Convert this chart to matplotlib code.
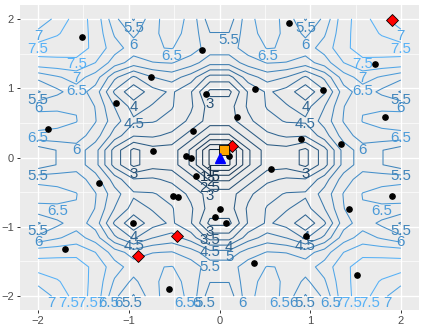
import numpy as np
import matplotlib
matplotlib.use("Agg")
import matplotlib.pyplot as plt
from matplotlib.colors import to_rgb

plt.rcParams['font.family'] = ['Liberation Sans', 'DejaVu Sans']

# surface values on a 20 x 20 grid over [-2, 2]; only the x>0, y>0 quarter is typed
# (rows = y, cols = x, from 0.105 out to 2), the picture is symmetric
grid_coords = np.linspace(-2, 2, 20)
z_quarter = np.array([
    [0.93, 2.42, 3.27, 3.29, 2.86, 3.80, 5.19, 5.77, 5.52, 5.21],
    [2.42, 3.27, 3.88, 4.08, 4.04, 4.77, 5.74, 6.26, 6.33, 6.35],
    [3.27, 3.88, 4.34, 4.54, 4.58, 5.21, 6.03, 6.52, 6.67, 6.78],
    [3.29, 4.08, 4.54, 4.54, 4.30, 4.99, 5.98, 6.47, 6.42, 6.34],
    [2.86, 4.04, 4.58, 4.30, 3.60, 4.42, 5.77, 6.27, 5.88, 5.45],
    [3.80, 4.77, 5.21, 4.99, 4.42, 5.12, 6.26, 6.71, 6.44, 6.13],
    [5.19, 5.74, 6.03, 5.98, 5.77, 6.26, 7.00, 7.38, 7.37, 7.35],
    [5.77, 6.26, 6.52, 6.47, 6.27, 6.71, 7.38, 7.72, 7.72, 7.71],
    [5.52, 6.33, 6.67, 6.42, 5.88, 6.44, 7.37, 7.72, 7.46, 7.17],
    [5.21, 6.35, 6.78, 6.34, 5.45, 6.13, 7.35, 7.71, 7.17, 6.59],
])
levels = [1, 1.5, 2, 2.5, 3, 3.5, 4, 4.5, 5, 5.5, 6, 6.5, 7, 7.5]

# sample points
dots_x = [-1.52, -0.76, -1.14, -1.89, -0.73, -0.37, -0.31, -0.19, -0.15, -0.29,
          0.77, 1.72, 0.39, 1.14, 0.19, 1.83, 0.90, 1.34, 0.10,
          -1.33, -0.51, -0.46, -0.95, -1.70, -0.56, -0.26,
          0.57, 1.90, 1.43, 0.01, -0.05, 0.07, 0.95, 0.38, 1.52]
dots_y = [1.74, 1.16, 0.78, 0.41, 0.10, 0.02, -0.01, 1.55, 0.91, 0.38,
          1.94, 1.35, 0.99, 0.98, 0.59, 0.59, 0.26, 0.20, 0.02,
          -0.37, -0.56, -0.57, -0.95, -1.32, -1.89, -0.26,
          -0.17, -0.56, -0.75, -0.74, -0.86, -0.94, -1.13, -1.52, -1.70]
best_x = [1.90, 0.14, -0.47, -0.90]
best_y = [1.98, 0.17, -1.13, -1.42]
square_x, square_y = [0.05], [0.11]
tri_x, tri_y = [0.01], [0.00]

z = np.block([[z_quarter[::-1, ::-1], z_quarter[::-1]],
              [z_quarter[:, ::-1], z_quarter]])

# ggplot-like blue gradient, interpolated in Lab
M = np.array([[0.4124564, 0.3575761, 0.1804375],
              [0.2126729, 0.7151522, 0.0721750],
              [0.0193339, 0.1191920, 0.9503041]])
white = np.array([0.95047, 1.0, 1.08883])


def to_lab(col):
    rgb = np.array(to_rgb(col))
    lin = np.where(rgb <= 0.04045, rgb / 12.92, ((rgb + 0.055) / 1.055) ** 2.4)
    xyz = M @ lin / white
    f = np.where(xyz > 216 / 24389, np.cbrt(xyz), (24389 / 27 * xyz + 16) / 116)
    return np.array([116 * f[1] - 16, 500 * (f[0] - f[1]), 200 * (f[1] - f[2])])


def from_lab(lab):
    fy = (lab[0] + 16) / 116
    f = np.array([fy + lab[1] / 500, fy, fy - lab[2] / 200])
    xyz = np.where(f ** 3 > 216 / 24389, f ** 3, (116 * f - 16) / (24389 / 27)) * white
    lin = np.linalg.solve(M, xyz)
    rgb = np.where(lin <= 0.0031308, 12.92 * lin, 1.055 * np.abs(lin) ** (1 / 2.4) - 0.055)
    return tuple(np.clip(rgb, 0, 1))


lo, hi = to_lab('#132B43'), to_lab('#56B1F7')
tt = (np.array(levels) - levels[0]) / (levels[-1] - levels[0])
level_colors = [from_lab(lo + t * (hi - lo)) for t in tt]

fig = plt.figure(figsize=(4.23, 3.31), dpi=100)
ax = fig.add_axes([20 / 423, 1 - 310 / 331, 399 / 423, 305 / 331])
ax.set_facecolor('#EBEBEB')

cs = ax.contour(grid_coords, grid_coords, z, levels=levels,
                colors=level_colors, linewidths=0.75)

# label every piece under its lowest point
for lev, segs, col in zip(cs.levels, cs.allsegs, level_colors):
    for seg in segs:
        if len(seg) == 0:
            continue
        k = np.argmin(seg[:, 1])
        ax.text(seg[k, 0], seg[k, 1], f"{lev:g}", color=col, fontsize=10.8,
                ha='center', va='top', clip_on=True, zorder=3)

ax.plot(dots_x, dots_y, 'o', color='black', ms=3.8, zorder=5)
ax.plot(best_x, best_y, 'D', mfc='red', mec='black', mew=0.6, ms=6, zorder=6)
ax.plot(square_x, square_y, 's', mfc='orange', mec='black', mew=0.6, ms=6.5, zorder=7)
ax.plot(tri_x, tri_y, '^', color='blue', ms=7.5, zorder=8)

ax.set_xlim(-2.2, 2.2)
ax.set_ylim(-2.2, 2.2)
ax.set_xticks([-2, -1, 0, 1, 2])
ax.set_yticks([-2, -1, 0, 1, 2])
ax.set_xticks([-1.5, -0.5, 0.5, 1.5], minor=True)
ax.set_yticks([-1.5, -0.5, 0.5, 1.5], minor=True)
ax.set_axisbelow(True)
ax.grid(which='major', color='white', lw=1.0)
ax.grid(which='minor', color='white', lw=0.5)
for s in ax.spines.values():
    s.set_visible(False)
ax.tick_params(which='major', length=2.5, width=0.7, color='#333333',
               labelsize=8, labelcolor='#4D4D4D', pad=2)
ax.tick_params(which='minor', length=0)

fig.savefig('out.png', dpi=100)
